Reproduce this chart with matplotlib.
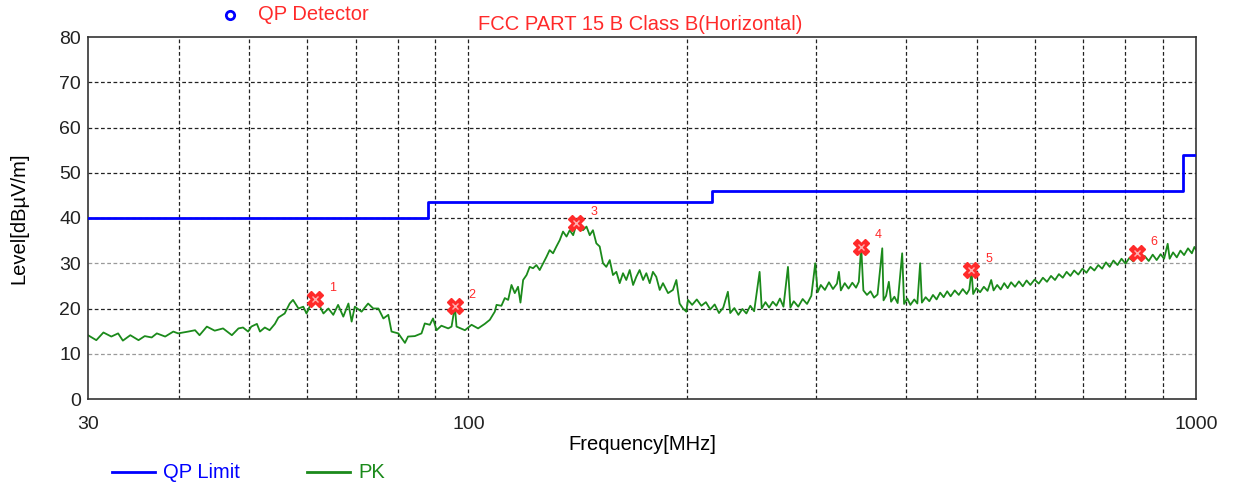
import matplotlib
matplotlib.use('Agg')
import matplotlib.pyplot as plt
from matplotlib.lines import Line2D

plt.rcParams['font.family'] = ['Liberation Sans', 'DejaVu Sans']

# QP limit (FCC Part 15 B class B), step line
lim_freq = [30, 88, 88, 216, 216, 960, 960, 1000]
lim_level = [40, 40, 43.5, 43.5, 46, 46, 54, 54]

# PK trace
pk_freq = [30.0, 30.8, 31.5, 32.3, 33.0, 33.5, 34.3, 35.2, 35.9, 36.7, 37.3, 38.3, 39.3, 39.9,
           41.2, 42.1, 42.7, 43.7, 44.8, 46.0, 47.3, 48.3, 49.0, 49.8, 50.3, 51.2, 51.7, 52.5,
           53.3, 54.2, 54.8, 55.9, 56.8, 57.4, 58.4, 59.3, 59.9, 60.5, 61.5, 62.2, 63.2, 64.2,
           65.2, 66.2, 67.3, 68.4, 69.1, 69.8, 71.3, 72.8, 74.0, 75.2, 76.4, 77.6, 78.4, 80.1,
           81.8, 82.6, 84.4, 86.2, 87.1, 88.5, 89.4, 90.4, 91.8, 93.8, 94.8, 95.8, 96.3, 98.9,
           101.0, 103.1, 105.3, 107.0, 108.7, 109.3, 111.0, 112.2, 113.4, 114.6, 115.8, 117.0,
           117.9, 118.9, 120.2, 121.4, 122.7, 124.0, 125.3, 126.7, 128.0, 129.3, 130.7, 132.1,
           133.5, 134.9, 136.4, 137.8, 139.3, 140.7, 142.2, 143.7, 145.3, 146.8, 148.3, 149.9,
           151.5, 153.1, 154.7, 156.4, 158.0, 159.7, 161.4, 163.1, 164.8, 166.6, 168.4, 170.1,
           171.9, 173.8, 175.6, 177.5, 179.3, 181.2, 183.2, 185.1, 188.1, 191.0, 193.1, 195.1,
           197.2, 199.3,
           200.3, 203, 206, 209, 212, 215, 218, 221, 224, 227.3, 229, 232, 235, 238, 241, 244,
           247, 251.3, 253, 256, 259, 262, 265, 268, 271, 274.9, 277, 280, 284, 288, 292, 296,
           299.7, 302, 305, 309, 313, 317, 321, 323.0, 325, 329, 333, 337, 341, 344, 346.6, 349,
           353, 357, 361, 365, 370.5, 372, 375, 378.3, 381, 385, 389, 394.6, 397, 401, 405, 410,
           414, 417.7, 420, 425, 430, 435, 440, 445, 450, 455, 460, 466, 472, 478, 484, 488,
           491.4, 494, 499, 505, 511, 517, 523.0, 527, 533, 539, 545, 551, 557, 564, 571, 578,
           585, 592, 600, 608, 616, 624, 632, 640, 648, 656, 664, 672, 680, 689, 698, 707, 716,
           725, 734, 743, 752, 761, 770, 780, 790, 800, 810, 820, 830, 840, 850, 861, 872, 883,
           894, 904, 914.3, 920, 930, 941, 952, 963, 975, 987, 995, 1000]
pk_level = [14.1, 13.0, 14.7, 13.8, 14.5, 12.9, 14.1, 13.0, 13.9, 13.6, 14.5, 13.8, 14.9, 14.5,
            14.9, 15.2, 14.1, 16.0, 15.1, 15.6, 14.1, 15.6, 15.8, 14.9, 16.0, 16.6, 14.9, 15.8,
            15.2, 16.6, 18.0, 18.9, 21.1, 21.9, 20.0, 20.4, 18.9, 20.4, 21.9, 21.1, 18.9, 20.0,
            18.6, 20.8, 18.2, 21.1, 17.1, 20.4, 19.3, 21.1, 20.0, 20.0, 17.8, 18.6, 14.9, 14.5,
            12.4, 13.8, 13.9, 14.5, 16.7, 16.4, 17.8, 15.2, 16.2, 15.6, 16.0, 20.5, 16.0, 15.2,
            16.4, 15.6, 16.6, 17.5, 19.3, 20.8, 20.6, 22.3, 21.9, 25.2, 23.4, 24.8,
            21.3, 26.3, 27.4, 29.2, 28.9, 29.6, 28.5, 30.0, 31.4, 32.9, 32.2, 33.7,
            35.1, 37.0, 35.9, 37.3, 36.2, 38.5, 38.1, 37.3, 38.1, 36.2, 37.3, 34.4,
            33.7, 30.0, 29.2, 30.7, 27.4, 28.1, 25.6, 27.8, 26.3, 28.5, 25.2, 27.0,
            28.5, 26.3, 27.8, 25.6, 28.1, 27.0, 24.1, 25.6, 23.4, 24.1, 26.3, 21.1,
            20.0, 19.3,
            21.9, 20.8, 22.0, 20.6, 21.4, 19.8, 20.9, 19.0, 20.2, 23.7, 19.0, 20.1, 18.6, 19.9,
            18.9, 20.6, 19.4, 28.1, 20.0, 21.4, 20.2, 21.5, 20.6, 22.2, 20.4, 29.2, 20.2, 21.6,
            20.4, 22.1, 21.0, 22.8, 30.0, 23.6, 25.2, 24.1, 25.8, 24.3, 25.5, 28.1, 24.0, 25.6,
            24.4, 25.7, 24.6, 25.9, 33.7, 24.0, 23.0, 23.8, 22.4, 23.1, 33.3, 21.8, 22.8, 25.9,
            21.5, 22.6, 21.2, 32.2, 21.0, 22.2, 20.8, 22.0, 21.1, 30.0, 21.3, 22.5, 21.6, 23.0,
            22.0, 23.5, 22.5, 23.8, 22.7, 24.0, 23.0, 24.3, 23.2, 24.2, 28.4, 23.2, 24.5, 23.6,
            24.8, 23.9, 26.3, 24.0, 25.2, 24.2, 25.6, 24.5, 25.8, 24.8, 26.0, 24.9, 26.2, 25.2,
            26.4, 25.5, 26.8, 25.9, 27.2, 26.3, 27.6, 26.8, 28.1, 27.2, 28.4, 27.5, 28.8, 27.9,
            29.2, 28.4, 29.6, 28.8, 30.2, 29.2, 30.6, 29.6, 31.0, 29.9, 31.2, 30.4, 31.8, 30.6,
            31.6, 30.5, 31.9, 30.7, 32.0, 31.0, 34.3, 31.0, 32.4, 31.3, 32.8, 31.8, 33.3, 32.2,
            33.6, 33.0]

# QP detector markers
mk_freq = [61.5, 95.8, 140.7, 346.6, 491.4, 828.9]
mk_level = [22.1, 20.5, 38.8, 33.7, 28.4, 32.3]
mk_label = ['1', '2', '3', '4', '5', '6']

BLUE = '#0000ff'
GREEN = '#1b8a1b'
RED = '#ff2a2a'

fig = plt.figure(figsize=(12.37, 4.87), dpi=100)
ax = fig.add_axes([88 / 1237, 1 - 399 / 487, (1196 - 88) / 1237, (399 - 37) / 487])

ax.set_xscale('log')
ax.set_xlim(30, 1000)
ax.set_ylim(0, 80)

# grid
for f in [40, 50, 60, 70, 80, 90, 100, 200, 300, 400, 500, 600, 700, 800, 900]:
    ax.axvline(f, color='#222222', lw=0.9, ls=(0, (3, 2)), zorder=0)
for lv in range(10, 80, 10):
    c = '#9a9a9a' if lv in (10, 30) else '#222222'
    ax.axhline(lv, color=c, lw=0.9, ls=(0, (3, 2)), zorder=0)

ax.plot(pk_freq, pk_level, color=GREEN, lw=1.3, zorder=2)
ax.plot(lim_freq, lim_level, color=BLUE, lw=2.0, zorder=3)

ax.plot(mk_freq, mk_level, ls='none', marker='X', ms=11, color=RED, mec=RED, zorder=4)
ax.plot(mk_freq, mk_level, ls='none', marker='x', ms=5, color='#ffb0b0', mew=1, zorder=5)
for f, lv, t in zip(mk_freq, mk_level, mk_label):
    ax.annotate(t, (f, lv), xytext=(10, 6), textcoords='offset points',
                color=RED, fontsize=9)

ax.set_xticks([30, 100, 1000])
ax.set_xticklabels(['30', '100', '1000'])
ax.xaxis.set_minor_locator(matplotlib.ticker.NullLocator())
ax.set_yticks(range(0, 81, 10))
ax.tick_params(axis='both', length=0, labelsize=14, pad=5, colors='#222222')
ax.tick_params(axis='x', pad=12)
for s in ax.spines.values():
    s.set_color('#333333')
    s.set_linewidth(1.2)

ax.set_xlabel('Frequency[MHz]', fontsize=14.5, labelpad=2)
ax.set_ylabel('Level[dBµV/m]', fontsize=14.5, labelpad=22)

# header texts
fig.text(640 / 1237, 1 - 25 / 487, 'FCC PART 15 B Class B(Horizontal)', color=RED,
         fontsize=14.5, ha='center', va='center')
fig.add_artist(Line2D([230 / 1237], [1 - 15 / 487], marker='o', ms=6, mfc='none',
                      mec=BLUE, mew=2, transform=fig.transFigure))
fig.text(258 / 1237, 1 - 15 / 487, 'QP Detector', color=RED, fontsize=14.5,
         ha='left', va='center')

# legend below
ly = 1 - 472 / 487
fig.add_artist(Line2D([112 / 1237, 155 / 1237], [ly, ly], color=BLUE, lw=2,
                      transform=fig.transFigure))
fig.text(163 / 1237, ly, 'QP Limit', color=BLUE, fontsize=14.5, va='center')
fig.add_artist(Line2D([307 / 1237, 350 / 1237], [ly, ly], color=GREEN, lw=2,
                      transform=fig.transFigure))
fig.text(358 / 1237, ly, 'PK', color=GREEN, fontsize=14.5, va='center')

fig.savefig('out.png', dpi=100)
